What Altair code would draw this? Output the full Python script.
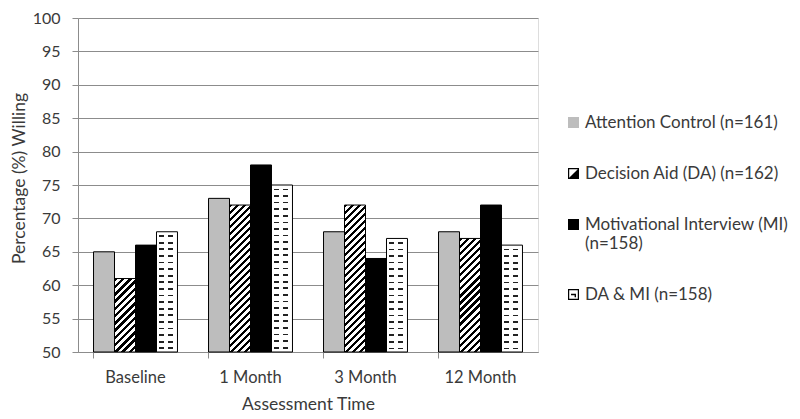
import altair as alt
import pandas as pd

# ---------------- data ----------------
times = ["Baseline", "1 Month", "3 Month", "12 Month"]
groups = [
    "Attention Control (n=161)",
    "Decision Aid (DA) (n=162)",
    "Motivational Interview (MI) (n=158)",
    "DA & MI (n=158)",
]
attention_control = [65, 73, 68, 68]
decision_aid = [61, 72, 72, 67]
motivational_interview = [66, 78, 64, 72]
da_and_mi = [68, 75, 67, 66]
y_ticks = [50, 55, 60, 65, 70, 75, 80, 85, 90, 95, 100]

series = [attention_control, decision_aid, motivational_interview, da_and_mi]
rows = []
for g, vals in zip(groups, series):
    for t, v in zip(times, vals):
        rows.append({"time": t, "group": g, "value": v})
df = pd.DataFrame(rows)

# ---------------- layout ----------------
W, H = 460, 334
Y_MIN, Y_MAX = 50, 100
PAD_INNER, PAD_OUTER = 0.27, 0.135
STEP = W / (len(times) - PAD_INNER + 2 * PAD_OUTER)
BAR_W = STEP * (1 - PAD_INNER) / len(groups)
PX_PER_UNIT = H / (Y_MAX - Y_MIN)

FONT = "Lato"
TEXT = "#3a3a3a"
GRID = "#8c8c8c"
GRAY_FILL = "#bdbdbd"

x_enc = alt.X(
    "time:N",
    sort=times,
    scale=alt.Scale(domain=times, paddingInner=PAD_INNER, paddingOuter=PAD_OUTER),
    axis=alt.Axis(
        title="Assessment Time",
        labelAngle=0,
        bandPosition=0,
        domainColor=GRID,
        tickColor=GRID,
        tickSize=6,
        labelPadding=11,
        labelFontSize=16.5,
        titleFontSize=17.5,
        titlePadding=10,
        titleFontWeight="normal",
        labelColor=TEXT,
        titleColor=TEXT,
        labelFont=FONT,
        titleFont=FONT,
        grid=False,
    ),
)
xoff_enc = alt.XOffset(
    "group:N", sort=groups, scale=alt.Scale(domain=groups, paddingInner=0, paddingOuter=0)
)
y_enc = alt.Y(
    "value:Q",
    scale=alt.Scale(domain=[Y_MIN, Y_MAX], zero=False, nice=False),
    axis=alt.Axis(
        title="Percentage (%) Willing",
        values=y_ticks,
        grid=True,
        gridColor=GRID,
        gridWidth=1,
        domainColor=GRID,
        tickColor=GRID,
        tickSize=6,
        labelPadding=12,
        labelFontSize=16,
        titleFontSize=17.5,
        titleFontWeight="normal",
        labelColor=TEXT,
        titleColor=TEXT,
        labelFont=FONT,
        titleFont=FONT,
        titleX=-59,
        titleY=160,
        titleBaseline="middle",
    ),
)
base_enc = dict(x=x_enc, xOffset=xoff_enc, y=y_enc, y2=alt.datum(Y_MIN))


def bar_height(v):
    return (v - Y_MIN) * PX_PER_UNIT


def hatch_gradient(h, w=BAR_W, period=7.0, frac=0.48):
    """diagonal '/' stripes in a bar of w x h pixels"""
    n = max(1, round((w + h) / period))
    d = w * w + h * h
    stops = []
    for k in range(n):
        a, b, c = k / n, (k + frac) / n, (k + 1) / n
        stops += [
            alt.GradientStop(offset=a, color="black"),
            alt.GradientStop(offset=b, color="black"),
            alt.GradientStop(offset=b, color="white"),
            alt.GradientStop(offset=c, color="white"),
        ]
    return alt.LinearGradient(
        gradient="linear", x1=0, y1=0, x2=(w + h) * w / d, y2=(w + h) * h / d, stops=stops
    )


def rows_gradient(h, period=6.6, thick=1.7, start=3.5):
    """horizontal dark lines every `period` px, from the top"""
    stops = [alt.GradientStop(offset=0, color="white")]
    y = start
    while y + thick < h - 1.5:
        stops += [
            alt.GradientStop(offset=y / h, color="white"),
            alt.GradientStop(offset=y / h, color="#222222"),
            alt.GradientStop(offset=(y + thick) / h, color="#222222"),
            alt.GradientStop(offset=(y + thick) / h, color="white"),
        ]
        y += period
    stops.append(alt.GradientStop(offset=1, color="white"))
    return alt.LinearGradient(gradient="linear", x1=0, y1=0, x2=0, y2=1, stops=stops)


def column_mask(w=BAR_W):
    """opaque white except two transparent columns -> turns lines into dashes"""
    clear = "rgba(255,255,255,0)"
    cols = [(3.0, 8.0), (12.0, 17.0)]
    stops = [alt.GradientStop(offset=0, color="white")]
    for a, b in cols:
        stops += [
            alt.GradientStop(offset=a / w, color="white"),
            alt.GradientStop(offset=a / w, color=clear),
            alt.GradientStop(offset=b / w, color=clear),
            alt.GradientStop(offset=b / w, color="white"),
        ]
    stops.append(alt.GradientStop(offset=1, color="white"))
    return alt.LinearGradient(gradient="linear", x1=0, y1=0, x2=1, y2=0, stops=stops)


base = alt.Chart(df)
layers = []

# solid bars
layers.append(
    base.mark_bar(color=GRAY_FILL, strokeWidth=0)
    .encode(**base_enc)
    .transform_filter(alt.datum.group == groups[0])
)
layers.append(
    base.mark_bar(color="black", strokeWidth=0)
    .encode(**base_enc)
    .transform_filter(alt.datum.group == groups[2])
)

# hatched bars (Decision Aid)
for t, v in zip(times, decision_aid):
    layers.append(
        base.mark_bar(color=hatch_gradient(bar_height(v)), strokeWidth=0)
        .encode(**base_enc)
        .transform_filter((alt.datum.group == groups[1]) & (alt.datum.time == t))
    )

# dashed bars (DA & MI)
for t, v in zip(times, da_and_mi):
    layers.append(
        base.mark_bar(color=rows_gradient(bar_height(v)), strokeWidth=0)
        .encode(**base_enc)
        .transform_filter((alt.datum.group == groups[3]) & (alt.datum.time == t))
    )
layers.append(
    base.mark_bar(color=column_mask(), strokeWidth=0)
    .encode(**base_enc)
    .transform_filter(alt.datum.group == groups[3])
)

# outlines
layers.append(
    base.mark_bar(fill="transparent", stroke="black", strokeWidth=1).encode(**base_enc)
)

# legend (entries come from the explicit scale domains)
sq = "M-1,-1H1V1H-1Z"
ring = "M-1,-1H1V1H-1Z M-0.78,-0.78V0.78H0.78V-0.78Z"
shape_paths = [
    sq,
    ring + " M-0.78,0.78L0.78,-0.78L0.78,0.78Z",
    sq,
    ring + " M-0.45,-0.15H0.35V0.12H-0.45Z M0.2,-0.15H0.45V0.5H0.2Z",
]
legend_fills = [GRAY_FILL, "black", "black", "black"]
legend = alt.Legend(
    title=None,
    orient="none",
    legendX=565 - 78,
    legendY=96,
    padding=0,
    symbolSize=121,
    symbolStrokeColor="#222222",
    symbolStrokeWidth=0.6,
    symbolOpacity=1,
    labelFont=FONT,
    labelFontSize=17,
    labelColor=TEXT,
    labelOffset=3,
    labelLimit=400,
    rowPadding=33,
    labelExpr="datum.label == 'Motivational Interview (MI) (n=158)' ? ['Motivational Interview (MI)', '(n=158)'] : datum.label",
)
legend_layer = (
    base.mark_point(filled=True, opacity=1)
    .encode(
        fill=alt.Fill("group:N", scale=alt.Scale(domain=groups, range=legend_fills), legend=legend),
        shape=alt.Shape("group:N", scale=alt.Scale(domain=groups, range=shape_paths), legend=legend),
    )
    .transform_filter(alt.datum.value > 1000)
)
layers.append(legend_layer)

chart = (
    alt.layer(*layers)
    .properties(
        width=W,
        height=H,
        autosize=alt.AutoSizeParams(type="none"),
        padding={"left": 70, "top": 10, "right": 254, "bottom": 66},
    )
    .configure_view(stroke=None)
    .configure(background="white")
)

chart.save("out.html", embed_options={"renderer": "svg", "actions": False})
